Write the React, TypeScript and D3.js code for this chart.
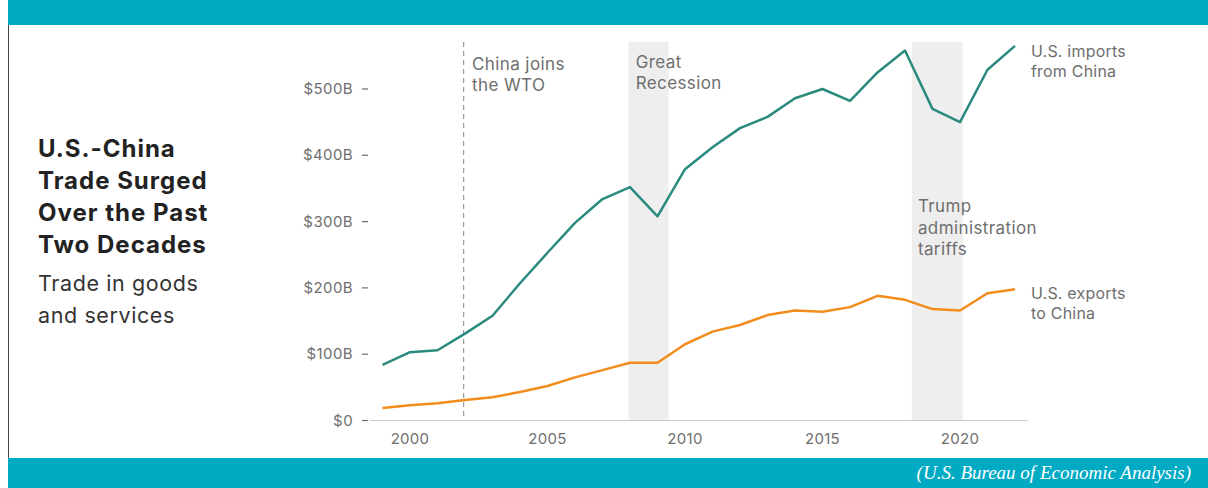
import React from "react";
import * as d3 from "d3";

const years = [1999, 2000, 2001, 2002, 2003, 2004, 2005, 2006, 2007, 2008, 2009, 2010, 2011, 2012, 2013, 2014, 2015, 2016, 2017, 2018, 2019, 2020, 2021, 2022];
const imports = [84, 103, 106, 131, 158, 207, 253, 298, 334, 352, 308, 379, 412, 441, 458, 486, 500, 482, 525, 558, 470, 450, 529, 565];
const exports_ = [19, 23, 26, 31, 35, 43, 52, 65, 76, 87, 87, 115, 134, 144, 159, 166, 164, 171, 188, 182, 168, 166, 192, 198];
const yTicks = [0, 100, 200, 300, 400, 500];
const xTicks = [2000, 2005, 2010, 2015, 2020];
const bands = [
  { start: 2007.95, end: 2009.4, label: ["Great", "Recession"] },
  { start: 2018.25, end: 2020.1, label: ["Trump", "administration", "tariffs"] },
];
const wtoYear = 2001.95;
const wtoLabel = ["China joins", "the WTO"];
const seriesLabels = { imports: ["U.S. imports", "from China"], exports: ["U.S. exports", "to China"] };
const titleLines = ["U.S.-China", "Trade Surged", "Over the Past", "Two Decades"];
const subtitleLines = ["Trade in goods", "and services"];
const source = "(U.S. Bureau of Economic Analysis)";

const TEAL = "#00aac3";
const GREEN = "#2b8a7e";
const ORANGE = "#f28c1c";
const GRAY = "#6e6e6e";
const FONT = "Inter, 'Noto Sans', sans-serif";

export default function App() {
  const W = 1208, H = 488;
  const x = d3.scaleLinear().domain([2000, 2020]).range([410, 960]);
  const y = d3.scaleLinear().domain([0, 500]).range([420.5, 89]);
  const line = d3.line<number>().x((_, i) => x(years[i])).y((d) => y(d));
  const bandTop = 42;
  const ann = { fontFamily: FONT, fontSize: 17, letterSpacing: 0.4, fill: GRAY };

  return (
    <svg width={W} height={H} style={{ position: "absolute", left: 0, top: 0, background: "#fff" }}>
      {/* top banner */}
      <rect x={8} y={0} width={W - 8} height={25} fill={TEAL} />
      {/* left border */}
      <line x1={8.5} x2={8.5} y1={25} y2={463} stroke="#444" strokeWidth={1} />
      {/* bottom banner */}
      <rect x={8} y={458} width={W - 8} height={30} fill={TEAL} />
      <text x={1191} y={479} textAnchor="end" fill="#fff" fontFamily="'Liberation Serif', serif" fontStyle="italic" fontSize={19}>
        {source}
      </text>

      {/* title */}
      {titleLines.map((t, i) => (
        <text key={t} x={38} y={157 + i * 32} fontFamily={FONT} fontWeight={700} fontSize={24} letterSpacing={1.0} fill="#222">
          {t}
        </text>
      ))}
      {subtitleLines.map((t, i) => (
        <text key={t} x={38} y={291 + i * 32} fontFamily={FONT} fontSize={21.5} letterSpacing={0.6} fill="#333">
          {t}
        </text>
      ))}

      {/* bands */}
      {bands.map((b) => (
        <rect key={b.start} x={x(b.start)} y={bandTop} width={x(b.end) - x(b.start)} height={y(0) - bandTop} fill="#eeeeee" />
      ))}

      {/* axis line */}
      <line x1={370} x2={1028} y1={y(0)} y2={y(0)} stroke="#cccccc" strokeWidth={1} />

      {/* WTO dashed line */}
      <line x1={x(wtoYear)} x2={x(wtoYear)} y1={bandTop} y2={y(0)} stroke="#9a9a9a" strokeWidth={1.2} strokeDasharray="5,4" />

      {/* y ticks */}
      {yTicks.map((t) => (
        <g key={t}>
          <text x={353} y={y(t) + 5} textAnchor="end" fontFamily={FONT} fontSize={15} letterSpacing={0.4} fill={GRAY}>
            {t === 0 ? "$0" : `$${t}B`}
          </text>
          <line x1={362} x2={368} y1={y(t)} y2={y(t)} stroke={GRAY} strokeWidth={1.2} />
        </g>
      ))}
      {/* x ticks */}
      {xTicks.map((t) => (
        <text key={t} x={x(t)} y={444} textAnchor="middle" fontFamily={FONT} fontSize={15} letterSpacing={0.3} fill={GRAY}>
          {t}
        </text>
      ))}

      {/* lines */}
      <path d={line(imports) || ""} fill="none" stroke={GREEN} strokeWidth={2.5} strokeLinejoin="round" />
      <path d={line(exports_) || ""} fill="none" stroke={ORANGE} strokeWidth={2.5} strokeLinejoin="round" />

      {/* annotations */}
      {wtoLabel.map((t, i) => (
        <text key={t} x={472} y={70 + i * 21} {...ann}>{t}</text>
      ))}
      {bands[0].label.map((t, i) => (
        <text key={t} x={x(bands[0].start) + 7} y={68 + i * 21} {...ann}>{t}</text>
      ))}
      {bands[1].label.map((t, i) => (
        <text key={t} x={x(bands[1].start) + 6} y={212 + i * 21.5} {...ann}>{t}</text>
      ))}
      {seriesLabels.imports.map((t, i) => (
        <text key={t} x={1031} y={57 + i * 20} {...ann} fontSize={16} letterSpacing={0.2}>{t}</text>
      ))}
      {seriesLabels.exports.map((t, i) => (
        <text key={t} x={1031} y={299 + i * 20} {...ann} fontSize={16} letterSpacing={0.2}>{t}</text>
      ))}
    </svg>
  );
}
